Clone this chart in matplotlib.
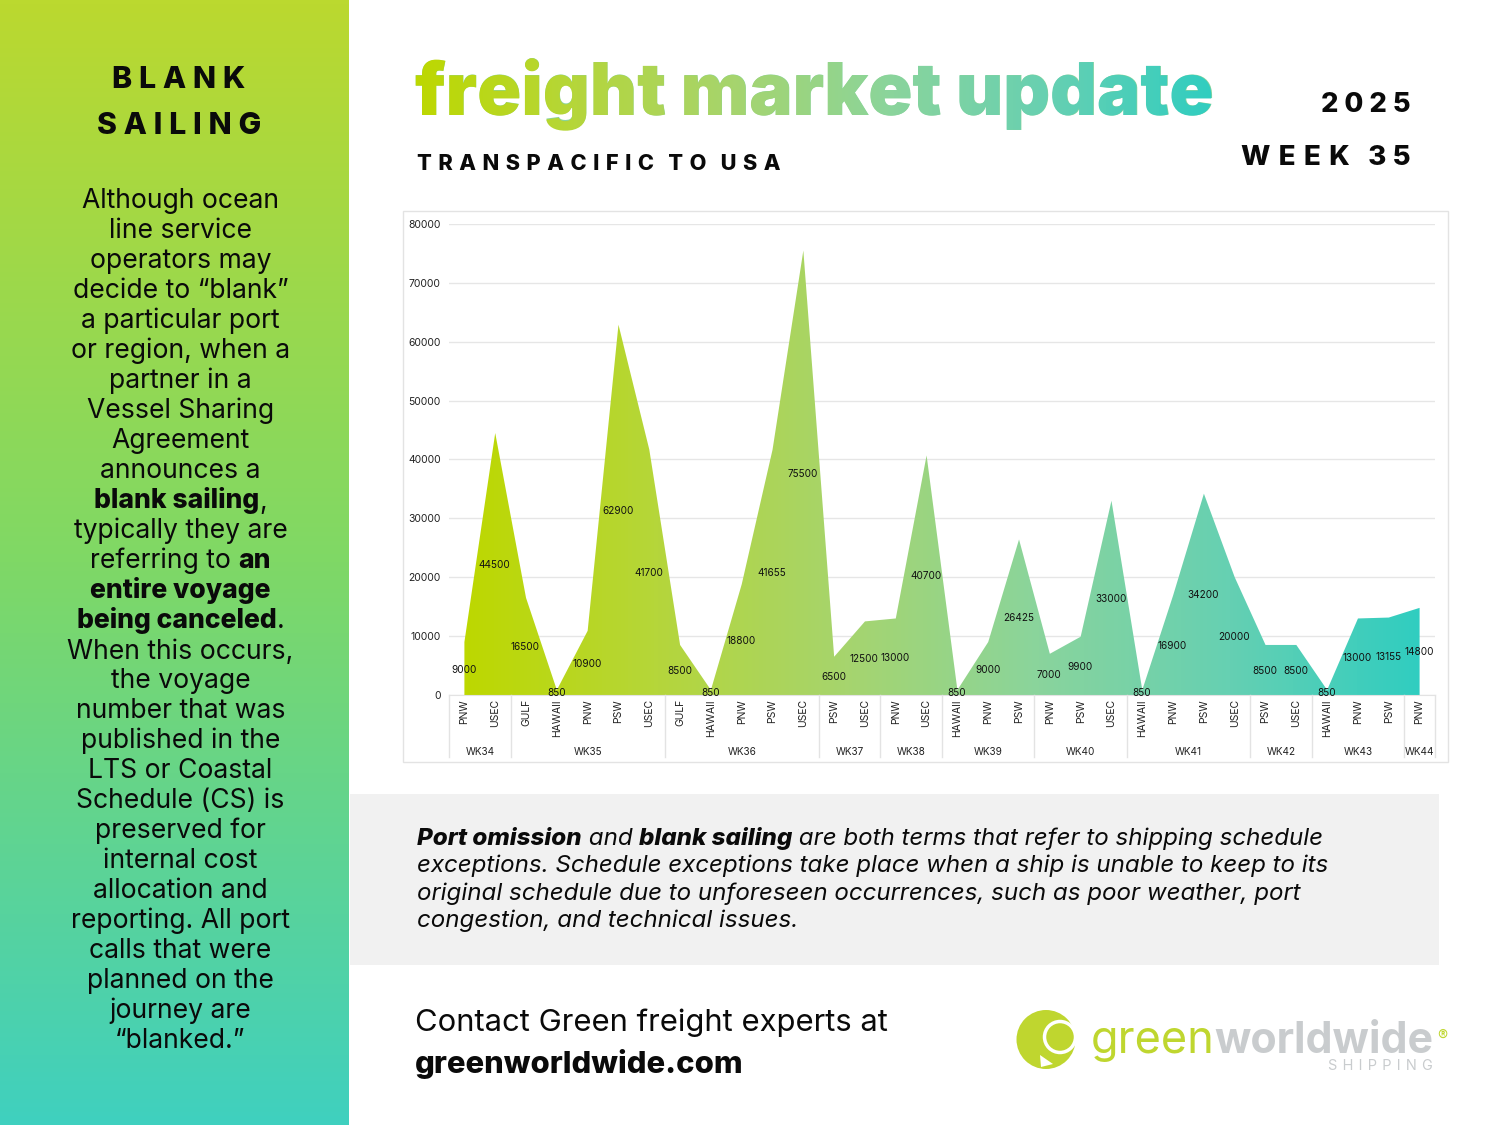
import matplotlib
matplotlib.use('Agg')
import matplotlib.pyplot as plt
import numpy as np
from matplotlib.colors import LinearSegmentedColormap
from matplotlib.font_manager import FontProperties
from matplotlib.patches import Circle, PathPatch, Polygon, Rectangle
from matplotlib.textpath import TextPath
from matplotlib.transforms import Affine2D

FONT = ['Inter', 'DejaVu Sans']
plt.rcParams['font.family'] = FONT

# chart data
weeks = ['WK34', 'WK35', 'WK36', 'WK37', 'WK38', 'WK39', 'WK40', 'WK41', 'WK42', 'WK43', 'WK44']
week_sizes = [2, 5, 5, 2, 2, 3, 3, 4, 2, 3, 1]
ports = ['PNW', 'USEC', 'GULF', 'HAWAII', 'PNW', 'PSW', 'USEC', 'GULF', 'HAWAII', 'PNW', 'PSW', 'USEC',
         'PSW', 'USEC', 'PNW', 'USEC', 'HAWAII', 'PNW', 'PSW', 'PNW', 'PSW', 'USEC',
         'HAWAII', 'PNW', 'PSW', 'USEC', 'PSW', 'USEC', 'HAWAII', 'PNW', 'PSW', 'PNW']
values = [9000, 44500, 16500, 850, 10900, 62900, 41700, 8500, 850, 18800, 41655, 75500,
          6500, 12500, 13000, 40700, 850, 9000, 26425, 7000, 9900, 33000,
          850, 16900, 34200, 20000, 8500, 8500, 850, 13000, 13155, 14800]
y_ticks = [0, 10000, 20000, 30000, 40000, 50000, 60000, 70000, 80000]

# page text, (text, style) runs per line
side_lines = [
    [('Although ocean', 'n')], [('line service', 'n')], [('operators may', 'n')],
    [('decide to “blank”', 'n')], [('a particular port', 'n')], [('or region, when a', 'n')],
    [('partner in a', 'n')], [('Vessel Sharing', 'n')], [('Agreement', 'n')], [('announces a', 'n')],
    [('blank sailing', 'b'), (',', 'n')], [('typically they are', 'n')],
    [('referring to ', 'n'), ('an', 'b')], [('entire voyage', 'b')],
    [('being canceled', 'b'), ('.', 'n')], [('When this occurs,', 'n')], [('the voyage', 'n')],
    [('number that was', 'n')], [('published in the', 'n')], [('LTS or Coastal', 'n')],
    [('Schedule (CS) is', 'n')], [('preserved for', 'n')], [('internal cost', 'n')],
    [('allocation and', 'n')], [('reporting. All port', 'n')], [('calls that were', 'n')],
    [('planned on the', 'n')], [('journey are', 'n')], [('“blanked.”', 'n')],
]
note_lines = [
    [('Port omission', 'bi'), (' and ', 'i'), ('blank sailing', 'bi'), (' are both terms that refer to shipping schedule', 'i')],
    [('exceptions. Schedule exceptions take place when a ship is unable to keep to its', 'i')],
    [('original schedule due to unforeseen occurrences, such as poor weather, port', 'i')],
    [('congestion, and technical issues.', 'i')],
]

grad = LinearSegmentedColormap.from_list('grad', ['#BDD800', '#B5D63A', '#A6D46E', '#8AD49C', '#66D0B2', '#30CDC0'])
side_grad = LinearSegmentedColormap.from_list('side', ['#BBD92F', '#7FD866', '#3FD0BF'])
INK = '#0A0A0A'
HEAVY = 'extra bold'
STYLES = {'n': ('normal', 'normal'), 'b': (HEAVY, 'normal'), 'i': ('normal', 'italic'), 'bi': (HEAVY, 'italic')}
LOGO_GREEN = '#BFD62F'
LOGO_GREY = '#C9CCCE'


def spaced(s, gap='\u2009\u200a'):
    return gap.join(s)


fig = plt.figure(figsize=(15, 11.25), dpi=100)
bg = fig.add_axes([0, 0, 1, 1], zorder=0)
bg.axis('off')

renderer = fig.canvas.get_renderer()


def run_width(txt, size, weight, style):
    # the bar keeps trailing spaces in the measurement
    t = bg.text(0, 0, txt + '|', fontsize=size, fontweight=weight, fontstyle=style)
    b = bg.text(0, 0, '|', fontsize=size, fontweight=weight, fontstyle=style)
    w = t.get_window_extent(renderer).width - b.get_window_extent(renderer).width
    t.remove()
    b.remove()
    return w


def draw_runs(runs, x, y, size, center=False):
    widths = [run_width(r[0], size, *STYLES[r[1]]) for r in runs]
    if center:
        x = x - sum(widths) / 2
    for (txt, kind), w in zip(runs, widths):
        weight, style = STYLES[kind]
        bg.text(x, y, txt, fontsize=size, fontweight=weight, fontstyle=style, color=INK, va='baseline', ha='left')
        x += w


# panels
bg.imshow(np.linspace(0, 1, 256).reshape(-1, 1), cmap=side_grad, extent=(0, 349, 1125, 0), aspect='auto', zorder=1)
bg.add_patch(Rectangle((350, 794), 1089, 171, color='#F1F1F1', lw=0, zorder=1))
bg.add_patch(Rectangle((403, 211), 1044.5, 551, fc='white', ec='#E3E3E3', lw=1, zorder=1))

# side panel text
bg.text(179, 79.5, spaced('BLANK'), fontsize=21.8, fontweight=HEAVY, color=INK, ha='center', va='center', zorder=3)
bg.text(179, 126, spaced('SAILING'), fontsize=21.8, fontweight=HEAVY, color=INK, ha='center', va='center', zorder=3)
for i, runs in enumerate(side_lines):
    draw_runs(runs, 180.5, 208.5 + i * 30, 19.1, center=True)

# title, solid text with the gradient clipped to the same outline on top
title = 'freight market update'
title_px = 72.7
fp = FontProperties(family=FONT, weight='black', size=title_px * 0.72)
bg.text(415, 115, title, fontproperties=fp, color='#8AD49C', va='baseline', ha='left', zorder=3)
tp = TextPath((0, 0), title, size=title_px, prop=fp)
tw = tp.get_extents().x1
outline = PathPatch(tp, transform=Affine2D().scale(1, -1).translate(415, 115) + bg.transData, fc='none', ec='none', zorder=3)
bg.add_patch(outline)
title_im = bg.imshow(np.linspace(0, 1, 256).reshape(1, -1), cmap=grad, extent=(415, 415 + tw, 140, 50), aspect='auto', zorder=4)
title_im.set_clip_path(outline)

wide_gap = '\u2009\u2009'
bg.text(417, 164, spaced('TRANSPACIFIC', wide_gap) + '   ' + spaced('TO', wide_gap) + '   ' + spaced('USA', wide_gap),
        fontsize=15.7, fontweight=HEAVY, color=INK, va='center', zorder=3)
bg.text(1411, 105, spaced('2025'), fontsize=19.7, fontweight=HEAVY, color=INK, ha='right', va='center', zorder=3)
bg.text(1411, 158, spaced('WEEK', wide_gap) + '   ' + spaced('35'), fontsize=20, fontweight=HEAVY, color=INK, ha='right', va='center', zorder=3)

# note box and contact
for i, runs in enumerate(note_lines):
    draw_runs(runs, 417, 845 + i * 27.3, 17.4)
bg.text(415, 1022.5, 'Contact Green freight experts at', fontsize=22.3, color=INK, va='center', zorder=3)
bg.text(415, 1064, 'greenworldwide.com', fontsize=22.3, fontweight=HEAVY, color=INK, va='center', zorder=3)

# logo
bg.add_patch(Circle((1046, 1039.5), 29.5, fc=LOGO_GREEN, ec='none', zorder=3))
bg.add_patch(Circle((1060, 1037), 15.5, fc=LOGO_GREEN, ec='white', lw=2.5, zorder=4))
bg.add_patch(Polygon([(1040, 1055), (1041, 1067), (1053, 1064)], fc='white', ec='none', zorder=5))
bg.text(1091, 1053, 'green', fontsize=32.5, fontweight='normal', color=LOGO_GREEN, va='baseline', zorder=3)
bg.text(1214, 1053, 'worldwide', fontsize=30.8, fontweight='bold', color=LOGO_GREY, va='baseline', zorder=3)
bg.text(1442, 1036, '®', fontsize=11, color=LOGO_GREEN, ha='center', va='center', zorder=3)
bg.text(1433, 1066, spaced('SHIPPING', wide_gap), fontsize=10.5, color=LOGO_GREY, ha='right', va='center', zorder=3)

bg.set_xlim(0, 1500)
bg.set_ylim(1125, 0)

# chart
ax = fig.add_axes([449 / 1500, 1 - 695 / 1125, 986 / 1500, 471 / 1125], zorder=2)
ax.patch.set_alpha(0)
xs = np.arange(len(values)) + 0.5
area = ax.fill_between(xs, 0, values, color='none', lw=0)
im = ax.imshow(np.linspace(0, 1, 256).reshape(1, -1), cmap=grad, extent=(xs[0], xs[-1], 0, 80000), aspect='auto', zorder=2)
im.set_clip_path(area.get_paths()[0], ax.transData)
ax.set_xlim(0, len(values))
ax.set_ylim(0, 80000)

ax.set_yticks(y_ticks)
ax.set_xticks(xs)
ax.set_xticklabels(ports, rotation=90, fontsize=7.5)
ax.tick_params(axis='both', length=0, colors='#222222')
ax.tick_params(axis='x', pad=3)
ax.tick_params(axis='y', labelsize=7.5, pad=6)
ax.grid(axis='y', color='#E6E6E6', lw=1)
ax.set_axisbelow(True)
for s in ax.spines.values():
    s.set_visible(False)
ax.spines['bottom'].set_visible(True)
ax.spines['bottom'].set_color('#E3E3E3')

# data labels sit halfway up the area
for x, v in zip(xs, values):
    ax.text(x - 0.02, v / 2, str(v), fontsize=7.2, color='#111111', ha='center', va='center_baseline', zorder=5)

# week groups under the port labels
edges = np.concatenate([[0], np.cumsum(week_sizes)])
tr = ax.get_xaxis_transform()
for e in edges:
    ax.plot([e, e], [0, -0.132], transform=tr, color='#E3E3E3', lw=1, clip_on=False)
for wk, a, b in zip(weeks, edges[:-1], edges[1:]):
    ax.text((a + b) / 2, -0.121, wk, transform=tr, fontsize=7.2, color='#222222', ha='center', va='center')

fig.savefig('out.png', dpi=100)
